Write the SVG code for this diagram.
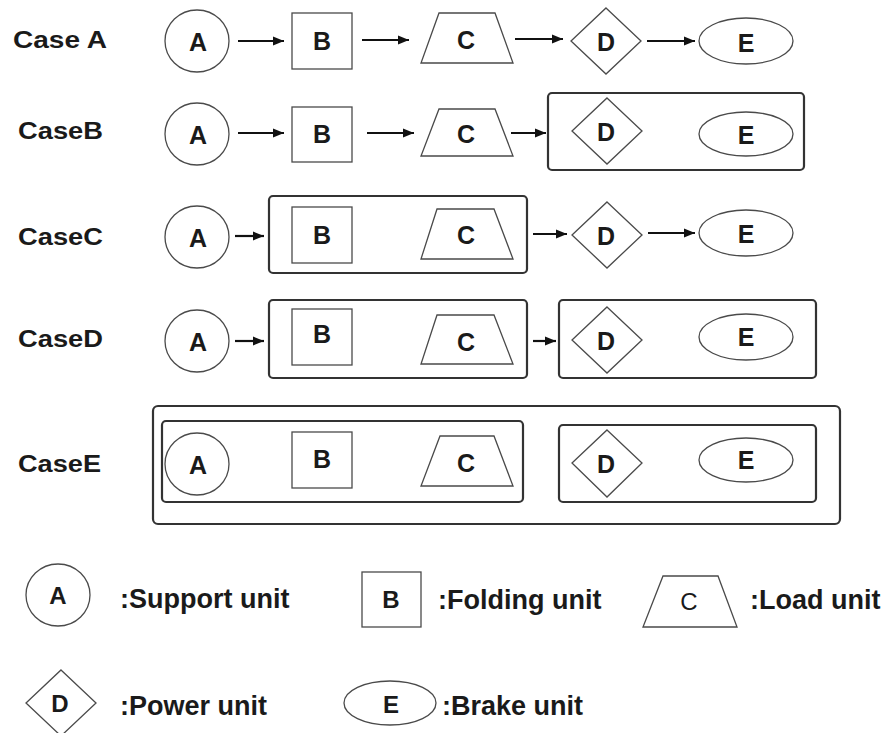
<svg xmlns="http://www.w3.org/2000/svg" width="892" height="733" viewBox="0 0 892 733">
<style>
.bg{fill:#ffffff}
.shape{fill:#ffffff;stroke:#4a4a4a;stroke-width:1.3}
.grp{fill:none;stroke:#333333;stroke-width:2.2}
.lbl{font-family:"Liberation Sans",Arial,sans-serif;font-weight:bold;font-size:25px;fill:#1a1a1a;text-anchor:middle}
.case{font-family:"Liberation Sans",Arial,sans-serif;font-weight:bold;font-size:23px;fill:#1a1a1a}
.leg{font-family:"Liberation Sans",Arial,sans-serif;font-weight:bold;font-size:27px;fill:#1a1a1a}
.legl{font-family:"Liberation Sans",Arial,sans-serif;font-weight:bold;font-size:24px;fill:#1a1a1a;text-anchor:middle}
.conn{stroke:#111111;stroke-width:2.2;fill:none;marker-end:url(#ah)}
</style>
<defs>
<marker id="ah" viewBox="0 0 10 10" refX="10" refY="5" markerWidth="5" markerHeight="5" markerUnits="strokeWidth" orient="auto">
<path d="M0,1 L10,5 L0,9 Z" fill="#111111"/>
</marker>
</defs>
<rect class="bg" x="0" y="0" width="892" height="733"/>

<!-- Case labels -->
<g id="labels">
<text class="case" x="13" y="48" textLength="94" lengthAdjust="spacingAndGlyphs">Case A</text>
<text class="case" x="18" y="139" textLength="85" lengthAdjust="spacingAndGlyphs">CaseB</text>
<text class="case" x="18" y="245" textLength="85" lengthAdjust="spacingAndGlyphs">CaseC</text>
<text class="case" x="18" y="347" textLength="85" lengthAdjust="spacingAndGlyphs">CaseD</text>
<text class="case" x="18" y="472" textLength="83" lengthAdjust="spacingAndGlyphs">CaseE</text>
</g>

<!-- Group boxes -->
<g id="groups">
<rect id="gB_DE" class="grp" x="548" y="93" width="256" height="77" rx="4"/>
<rect id="gC_BC" class="grp" x="269" y="196" width="258" height="77" rx="4"/>
<rect id="gD_BC" class="grp" x="269" y="300" width="258" height="78" rx="4"/>
<rect id="gD_DE" class="grp" x="559" y="300" width="257" height="78" rx="4"/>
<rect id="gE_all" class="grp" x="153" y="406" width="687" height="118" rx="5"/>
<rect id="gE_ABC" class="grp" x="162" y="421" width="361" height="81" rx="4"/>
<rect id="gE_DE" class="grp" x="559" y="425" width="257" height="77" rx="4"/>
</g>

<!-- Case A -->
<g id="caseA-A"><ellipse class="shape" cx="197" cy="41" rx="32" ry="31"/><text class="lbl" x="198" y="51">A</text></g>
<g id="caseA-B"><rect class="shape" x="292" y="13" width="60" height="56"/><text class="lbl" x="322" y="50">B</text></g>
<g id="caseA-C"><polygon class="shape" points="439,13 495,13 513,63 421,63"/><text class="lbl" x="466" y="49">C</text></g>
<g id="caseA-D"><polygon class="shape" points="606,8 641,41 606,74 571,41"/><text class="lbl" x="606" y="51">D</text></g>
<g id="caseA-E"><ellipse class="shape" cx="746" cy="41" rx="47" ry="23"/><text class="lbl" x="746" y="52">E</text></g>

<!-- Case B -->
<g id="caseB-A"><ellipse class="shape" cx="197" cy="134" rx="32" ry="31"/><text class="lbl" x="198" y="144">A</text></g>
<g id="caseB-B"><rect class="shape" x="292" y="107" width="60" height="55"/><text class="lbl" x="322" y="143">B</text></g>
<g id="caseB-C"><polygon class="shape" points="439,109 495,109 513,156 421,156"/><text class="lbl" x="466" y="143">C</text></g>
<g id="caseB-D"><polygon class="shape" points="607,98 642,131 607,164 572,131"/><text class="lbl" x="606" y="141">D</text></g>
<g id="caseB-E"><ellipse class="shape" cx="746" cy="134" rx="47" ry="22"/><text class="lbl" x="746" y="144">E</text></g>

<!-- Case C -->
<g id="caseC-A"><ellipse class="shape" cx="197" cy="237" rx="32" ry="31"/><text class="lbl" x="198" y="247">A</text></g>
<g id="caseC-B"><rect class="shape" x="292" y="207" width="60" height="56"/><text class="lbl" x="322" y="244">B</text></g>
<g id="caseC-C"><polygon class="shape" points="437,209 494,209 513,259 421,259"/><text class="lbl" x="466" y="244">C</text></g>
<g id="caseC-D"><polygon class="shape" points="607,202 642,235 607,268 572,235"/><text class="lbl" x="606" y="245">D</text></g>
<g id="caseC-E"><ellipse class="shape" cx="746" cy="233" rx="47" ry="23"/><text class="lbl" x="746" y="243">E</text></g>

<!-- Case D -->
<g id="caseD-A"><ellipse class="shape" cx="197" cy="341" rx="32" ry="31"/><text class="lbl" x="198" y="351">A</text></g>
<g id="caseD-B"><rect class="shape" x="292" y="309" width="60" height="56"/><text class="lbl" x="322" y="343">B</text></g>
<g id="caseD-C"><polygon class="shape" points="437,315 494,315 513,364 421,364"/><text class="lbl" x="466" y="351">C</text></g>
<g id="caseD-D"><polygon class="shape" points="607,307 642,340 607,373 572,340"/><text class="lbl" x="606" y="350">D</text></g>
<g id="caseD-E"><ellipse class="shape" cx="746" cy="337" rx="47" ry="23"/><text class="lbl" x="746" y="346">E</text></g>

<!-- Case E -->
<g id="caseE-A"><ellipse class="shape" cx="197" cy="464" rx="32" ry="31"/><text class="lbl" x="198" y="474">A</text></g>
<g id="caseE-B"><rect class="shape" x="292" y="432" width="60" height="56"/><text class="lbl" x="322" y="468">B</text></g>
<g id="caseE-C"><polygon class="shape" points="440,436 494,436 513,486 421,486"/><text class="lbl" x="466" y="472">C</text></g>
<g id="caseE-D"><polygon class="shape" points="607,430 642,463 607,497 572,463"/><text class="lbl" x="606" y="473">D</text></g>
<g id="caseE-E"><ellipse class="shape" cx="746" cy="460" rx="47" ry="22"/><text class="lbl" x="746" y="469">E</text></g>

<!-- Connectors -->
<g id="connectors">
<line class="conn" x1="238" y1="41" x2="284" y2="41"/>
<line class="conn" x1="362" y1="40" x2="409" y2="40"/>
<line class="conn" x1="515" y1="39" x2="563" y2="39"/>
<line class="conn" x1="647" y1="41" x2="695" y2="41"/>

<line class="conn" x1="238" y1="133" x2="284" y2="133"/>
<line class="conn" x1="367" y1="133" x2="414" y2="133"/>
<line class="conn" x1="511" y1="133" x2="546" y2="133"/>

<line class="conn" x1="235" y1="236" x2="264" y2="236"/>
<line class="conn" x1="533" y1="234" x2="567" y2="234"/>
<line class="conn" x1="648" y1="233" x2="695" y2="233"/>

<line class="conn" x1="235" y1="341" x2="264" y2="341"/>
<line class="conn" x1="533" y1="341" x2="556" y2="341"/>
</g>

<!-- Legend -->
<g id="legend-A"><ellipse class="shape" cx="58" cy="595" rx="32" ry="31"/><text class="legl" x="58" y="604">A</text><text class="leg" x="120" y="608">:Support unit</text></g>
<g id="legend-B"><rect class="shape" x="362" y="572" width="59" height="55"/><text class="legl" x="391" y="608">B</text><text class="leg" x="438" y="609">:Folding unit</text></g>
<g id="legend-C"><polygon class="shape" points="663,576 718,576 737,627 643,627"/><text class="legl" x="689" y="610" style="font-weight:normal">C</text><text class="leg" x="750" y="609">:Load unit</text></g>
<g id="legend-D"><polygon class="shape" points="61,670 96,703 61,736 26,703"/><text class="legl" x="60" y="712">D</text><text class="leg" x="120" y="715">:Power unit</text></g>
<g id="legend-E"><ellipse class="shape" cx="390" cy="703" rx="46" ry="22"/><text class="legl" x="391" y="713">E</text><text class="leg" x="442" y="715">:Brake unit</text></g>
</svg>
